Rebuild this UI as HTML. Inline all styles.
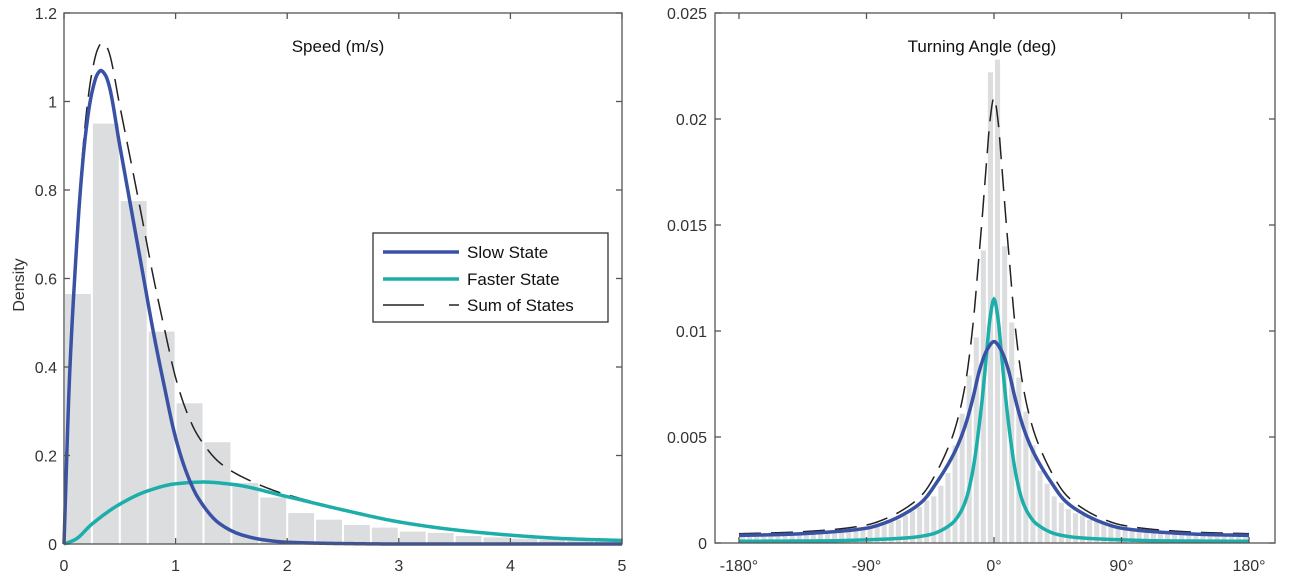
<!DOCTYPE html>
<html><head><meta charset="utf-8">
<style>
html,body{margin:0;padding:0;background:#fff;}
svg{display:block;font-family:"Liberation Sans",sans-serif;}
</style></head>
<body>
<svg id="chart" width="1299" height="578" viewBox="0 0 1299 578" xmlns="http://www.w3.org/2000/svg">
<rect width="1299" height="578" fill="#fff"/>
<g id="left"></g>
<g id="right"></g>
</svg>
<script>
// ---- Speed panel data ----
const speedBinEdges = [0,0.25,0.5,0.75,1,1.25,1.5,1.75,2,2.25,2.5,2.75,3,3.25,3.5,3.75,4,4.25,4.5,4.75,5];
const speedHist = [0.565,0.95,0.775,0.48,0.318,0.23,0.138,0.105,0.07,0.055,0.043,0.037,0.028,0.025,0.018,0.015,0.012,0.01,0.008,0.006];
const slowX = [0,0.05,0.1,0.15,0.2,0.25,0.3,0.33,0.37,0.4,0.5,0.6,0.7,0.8,0.9,1.0,1.1,1.2,1.4,1.6,1.8,2.0,2.5,3,4,5];
const slowY = [0,0.38,0.62,0.81,0.94,1.02,1.062,1.07,1.06,1.04,0.9,0.76,0.62,0.48,0.355,0.24,0.16,0.105,0.045,0.02,0.009,0.004,0.001,0,0,0];
const fastX = [0,0.1,0.25,0.5,0.75,1,1.25,1.5,2,2.5,3,3.5,4,4.5,5];
const fastY = [0,0.01,0.045,0.09,0.12,0.136,0.14,0.135,0.107,0.077,0.05,0.032,0.02,0.012,0.008];
const speedXTicks = [0,1,2,3,4,5];
const speedYTicks = [0,0.2,0.4,0.6,0.8,1,1.2];
const speedYTickLabels = ["0","0.2","0.4","0.6","0.8","1","1.2"];

// ---- Turning angle panel data ----
const angleBinEdges = []; for (let a=-180;a<=180;a+=5) angleBinEdges.push(a);
const angleHist = [0.0004,0.0004,0.0004,0.0004,0.0005,0.0004,0.0004,0.0004,0.0005,0.0004,0.0005,0.0005,0.0005,0.0006,0.0006,0.0006,0.0007,0.0007,0.0008,0.0008,0.0009,0.001,0.0011,0.0013,0.0015,0.0017,0.002,0.0022,0.0027,0.0033,0.0046,0.0061,0.0079,0.0097,0.0138,0.0222,
 0.0228,0.014,0.0104,0.0078,0.0062,0.0046,0.0034,0.0028,0.0022,0.0019,0.0016,0.0014,0.0013,0.0011,0.001,0.0009,0.0008,0.0008,0.0007,0.0007,0.0006,0.0006,0.0006,0.0005,0.0005,0.0005,0.0005,0.0004,0.0004,0.0004,0.0004,0.0004,0.0004,0.0004,0.0005,0.0004];
const slowAngX = [0,5,10,15,20,25,30,40,50,60,75,90,120,150,180];
const slowAngY = [0.0095,0.0091,0.0082,0.0068,0.0056,0.0047,0.004,0.0029,0.002,0.0015,0.001,0.0007,0.0005,0.0004,0.00036];
const fastAngX = [0,3,5,8,10,15,20,25,30,45,60,90,120,150,180];
const fastAngY = [0.0115,0.0105,0.0091,0.007,0.0058,0.0034,0.002,0.0013,0.0009,0.0004,0.00025,0.00015,0.0001,0.00009,0.00008];
const angleXTicks = [-180,-90,0,90,180];
const angleXTickLabels = ["-180°","-90°","0°","90°","180°"];
const angleYTicks = [0,0.005,0.01,0.015,0.02,0.025];
const angleYTickLabels = ["0","0.005","0.01","0.015","0.02","0.025"];

const NS="http://www.w3.org/2000/svg";
function mk(parent,tag,attrs){const e=document.createElementNS(NS,tag);for(const k in attrs)e.setAttribute(k,attrs[k]);parent.appendChild(e);return e;}
// monotone cubic (Fritsch-Carlson) evaluator
function monotone(xs,ys,zeroStart){
  const n=xs.length,d=[],m=new Array(n);
  for(let i=0;i<n-1;i++)d.push((ys[i+1]-ys[i])/(xs[i+1]-xs[i]));
  m[0]=zeroStart?0:d[0];m[n-1]=d[n-2];
  for(let i=1;i<n-1;i++){ if(d[i-1]*d[i]<=0)m[i]=0; else { const h0=xs[i]-xs[i-1],h1=xs[i+1]-xs[i]; const w1=2*h1+h0,w2=h1+2*h0; m[i]=(w1+w2)/(w1/d[i-1]+w2/d[i]); } }
  return function(x){
    let i=0; while(i<n-2 && x>xs[i+1]) i++;
    const h=xs[i+1]-xs[i],t=Math.min(1,Math.max(0,(x-xs[i])/h));
    const t2=t*t,t3=t2*t;
    return (2*t3-3*t2+1)*ys[i]+(t3-2*t2+t)*h*m[i]+(-2*t3+3*t2)*ys[i+1]+(t3-t2)*h*m[i+1];
  };
}
function sampledPath(f,a,b,n,sx,sy){let d="";for(let k=0;k<=n;k++){const x=a+(b-a)*k/n;d+=(k?"L":"M")+sx(x).toFixed(2)+","+sy(f(x)).toFixed(2);}return d;}
const BLUE="#3a52a5", TEAL="#1daeaa", BAR="#dcdddf", AX="#555";

// ===== LEFT =====
(function(){
  const g=document.getElementById('left');
  const L=64,R=622,T=13,B=544;
  const sx=v=>L+(v-0)/(5-0)*(R-L);
  const sy=v=>B-(v-0)/(1.2-0)*(B-T);
  speedHist.forEach((h,i)=>{
    const x0=sx(speedBinEdges[i]),x1=sx(speedBinEdges[i+1]);
    const r=mk(g,'rect',{x:x0+1,y:sy(h),width:x1-x0-2,height:B-sy(h),fill:BAR});
    
    
  });
  const fs=monotone(slowX,slowY,false), ff=monotone(fastX,fastY,false);
  const s=mk(g,'path',{d:sampledPath(x=>fs(x)+ff(x),0,5,600,sx,sy),fill:'none',stroke:'#222','stroke-width':1.5,'stroke-dasharray':'22 10'});
  
  
  const f=mk(g,'path',{d:sampledPath(ff,0,5,400,sx,sy),fill:'none',stroke:TEAL,'stroke-width':3.5});
  
  
  const sl=mk(g,'path',{d:sampledPath(fs,0,5,600,sx,sy),fill:'none',stroke:BLUE,'stroke-width':3.5});
  
  
  const bx=mk(g,'rect',{x:L,y:T,width:R-L,height:B-T,fill:'none',stroke:AX,'stroke-width':1.3});
  
  
  speedXTicks.forEach(v=>{
    mk(g,'line',{x1:sx(v),x2:sx(v),y1:B,y2:B-6,stroke:AX,'stroke-width':1.3});
    mk(g,'line',{x1:sx(v),x2:sx(v),y1:T,y2:T+6,stroke:AX,'stroke-width':1.3});
    const t=mk(g,'text',{x:sx(v),y:571,'text-anchor':'middle','font-size':16,fill:'#333'});t.textContent=String(v);
    
    
  });
  speedYTicks.forEach((v,i)=>{
    mk(g,'line',{x1:L,x2:L+6,y1:sy(v),y2:sy(v),stroke:AX,'stroke-width':1.3});
    mk(g,'line',{x1:R,x2:R-6,y1:sy(v),y2:sy(v),stroke:AX,'stroke-width':1.3});
    const t=mk(g,'text',{x:57,y:sy(v)+6,'text-anchor':'end','font-size':16,fill:'#333'});t.textContent=speedYTickLabels[i];
    
    
  });
  const yl=mk(g,'text',{x:24,y:285,'text-anchor':'middle','font-size':16,fill:'#333',transform:'rotate(-90 24 285)'});yl.textContent='Density';
  
  
  const tt=mk(g,'text',{x:338,y:52,'text-anchor':'middle','font-size':17,fill:'#111'});tt.textContent='Speed (m/s)';
  
  
  const lg=mk(g,'g',{});
  
  
  mk(lg,'rect',{x:373,y:233,width:235,height:89,fill:'#fff',stroke:'#333','stroke-width':1.3});
  const ents=[['Slow State',BLUE,252],['Faster State',TEAL,279],['Sum of States','#222',305]];
  ents.forEach((e,i)=>{
    const eg=mk(lg,'g',{});
    
    
    if(i<2) mk(eg,'line',{x1:383,x2:459,y1:e[2],y2:e[2],stroke:e[1],'stroke-width':3.5});
    else { mk(eg,'line',{x1:383,x2:424,y1:e[2],y2:e[2],stroke:e[1],'stroke-width':1.5}); mk(eg,'line',{x1:449,x2:459,y1:e[2],y2:e[2],stroke:e[1],'stroke-width':1.5}); }
    const t=mk(eg,'text',{x:467,y:e[2]+6,'font-size':17,fill:'#111'});t.textContent=e[0];
  });
})();

// ===== RIGHT =====
(function(){
  const g=document.getElementById('right');
  const L=715,R=1275,T=13,B=543;
  const x0=994, pxPerDeg=1.4167;
  const sx=v=>x0+v*pxPerDeg;
  const sy=v=>B-(v-0)/(0.025-0)*(B-T);
  angleHist.forEach((h,i)=>{
    const a=sx(angleBinEdges[i]),b=sx(angleBinEdges[i+1]);
    const r=mk(g,'rect',{x:a+1,y:sy(h),width:b-a-2,height:B-sy(h),fill:BAR});
    
    
  });
  const fsl=monotone(slowAngX,slowAngY,true), ffa=monotone(fastAngX,fastAngY,true);
  const fsym=f=>(x=>f(Math.abs(x)));
  const s=mk(g,'path',{d:sampledPath(x=>fsym(fsl)(x)+fsym(ffa)(x),-180,180,720,sx,sy),fill:'none',stroke:'#222','stroke-width':1.5,'stroke-dasharray':'22 10'});
  
  
  const f=mk(g,'path',{d:sampledPath(fsym(ffa),-180,180,720,sx,sy),fill:'none',stroke:TEAL,'stroke-width':3.5});
  
  
  const sl=mk(g,'path',{d:sampledPath(fsym(fsl),-180,180,720,sx,sy),fill:'none',stroke:BLUE,'stroke-width':3.5});
  
  
  const bx=mk(g,'rect',{x:L,y:T,width:R-L,height:B-T,fill:'none',stroke:AX,'stroke-width':1.3});
  
  
  angleXTicks.forEach((v,i)=>{
    mk(g,'line',{x1:sx(v),x2:sx(v),y1:B,y2:B-6,stroke:AX,'stroke-width':1.3});
    mk(g,'line',{x1:sx(v),x2:sx(v),y1:T,y2:T+6,stroke:AX,'stroke-width':1.3});
    const t=mk(g,'text',{x:sx(v),y:571,'text-anchor':'middle','font-size':16,fill:'#333'});t.textContent=angleXTickLabels[i];
    
    
  });
  angleYTicks.forEach((v,i)=>{
    mk(g,'line',{x1:L,x2:L+6,y1:sy(v),y2:sy(v),stroke:AX,'stroke-width':1.3});
    mk(g,'line',{x1:R,x2:R-6,y1:sy(v),y2:sy(v),stroke:AX,'stroke-width':1.3});
    const t=mk(g,'text',{x:707,y:sy(v)+6,'text-anchor':'end','font-size':16,fill:'#333'});t.textContent=angleYTickLabels[i];
    
    
  });
  const tt=mk(g,'text',{x:982,y:52,'text-anchor':'middle','font-size':17,fill:'#111'});tt.textContent='Turning Angle (deg)';
  
  
})();
</script>
</body></html>
